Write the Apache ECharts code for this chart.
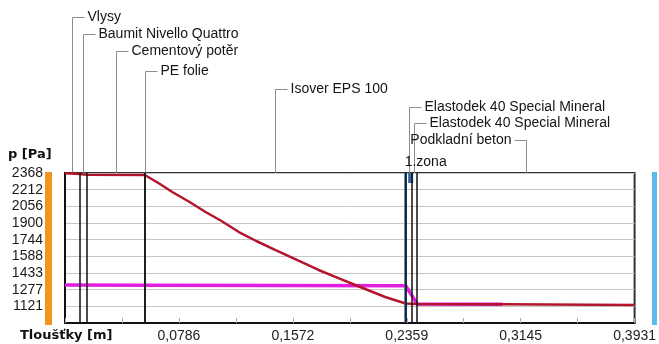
<!DOCTYPE html>
<html>
<head>
<meta charset="utf-8">
<script src="https://cdn.jsdelivr.net/npm/echarts@6/dist/echarts.min.js"></script>
<style>
  html, body { margin: 0; padding: 0; background: #fff; }
  #chart { width: 659px; height: 344px; }
</style>
</head>
<body>
<div id="chart"></div>
<script>
// vrstvy konstrukce (nazev + hranice v metrech)
const LAYER_NAMES = ['Vlysy', 'Baumit Nivello Quattro', 'Cementový potěr', 'PE folie', 'Isover EPS 100',
    'Elastodek 40 Special Mineral', 'Elastodek 40 Special Mineral', 'Podkladní beton'];
const LAYER_BOUNDS = [0, 0.010, 0.015, 0.055, 0.0551, 0.2351, 0.2391, 0.2431, 0.3931];
const ZONE_X = 0.2351;
const ZONE_NAME = '1.zona';

// osa x
const X_MAX = 0.3931;
const X_LABELS = ['', '', '0,0786', '', '0,1572', '', '0,2359', '', '0,3145', '', '0,3931'];

// osa y
const Y_MIN = 965.125;
const Y_MAX = 2368;
const Y_LABELS = ['', '1121', '1277', '1433', '1588', '1744', '1900', '2056', '2212', '2368'];

// nasyceny tlak vodni pary (cervena)
const SAT_X = [0, 0.010, 0.015, 0.0551, 0.065, 0.074, 0.086, 0.097, 0.108, 0.120, 0.132, 0.145,
    0.163, 0.175, 0.187, 0.202, 0.221, 0.2351, 0.2431, 0.302, 0.3931];
const SAT_P = [2365, 2359, 2352, 2349, 2270, 2190, 2097, 2003, 1919, 1816, 1732, 1648,
    1536, 1461, 1395, 1311, 1208, 1147, 1143, 1141, 1134];

// castecny tlak vodni pary (fialova)
const P_X = [0, 0.055, 0.0551, 0.2351, 0.2391, 0.2431, 0.302];
const P_VAL = [1320, 1318, 1314, 1314, 1228, 1143, 1141];

const GRID = { left: 65, right: 21, top: 173, bottom: 21 };
const FONT = '"Liberation Sans", Arial, sans-serif';

let chart = echarts.init(document.getElementById('chart'), null, { renderer: 'canvas' });

let option = {
    animation: false,
    backgroundColor: '#fff',
    textStyle: { fontFamily: FONT },
    grid: {
        left: GRID.left, right: GRID.right, top: GRID.top, bottom: GRID.bottom,
        show: true, backgroundColor: '#fff', borderColor: '#333', borderWidth: 2
    },
    xAxis: {
        type: 'value', min: 0, max: X_MAX, interval: X_MAX / 10,
        axisLine: { show: true, onZero: false, lineStyle: { color: '#111', width: 2 } },
        axisTick: { show: true, inside: true, length: 5, lineStyle: { color: '#aaa' } },
        splitLine: { show: false },
        axisLabel: {
            color: '#222', fontSize: 14, margin: 6, showMaxLabel: true,
            formatter: (v, i) => X_LABELS[i] || ''
        }
    },
    yAxis: {
        type: 'value', min: Y_MIN, max: Y_MAX, interval: (Y_MAX - Y_MIN) / 9,
        axisLine: { show: true, lineStyle: { color: '#111', width: 2 } },
        axisTick: { show: false },
        splitLine: { show: true, lineStyle: { color: '#c6c6c6', width: 1 } },
        axisLabel: {
            color: '#1a1a1a', fontSize: 14, margin: 22, padding: [3, 0, 0, 0],
            formatter: (v, i) => Y_LABELS[i] || ''
        }
    },
    series: [
        {
            // castecny tlak p
            type: 'line', showSymbol: false, silent: true, z: 2,
            data: P_X.map((x, i) => [x, P_VAL[i]]),
            lineStyle: { color: '#e21de0', width: 3.5 },
            markLine: {
                silent: true, precision: 6, symbol: ['none', 'rect'], symbolSize: [5, 10], symbolOffset: [0, 5],
                label: { show: false },
                lineStyle: { color: '#2d6aa6', width: 2.5, type: 'solid' },
                itemStyle: { color: '#2d6aa6' },
                data: [{ xAxis: ZONE_X }]
            }
        },
        {
            // nasyceny tlak p,sat
            type: 'line', showSymbol: false, silent: true, z: 3,
            data: SAT_X.map((x, i) => [x, SAT_P[i]]),
            lineStyle: { color: '#b3162c', width: 2.5 },
            markLine: {
                silent: true, precision: 6, symbol: ['none', 'none'],
                label: { show: false },
                lineStyle: { color: '#111', width: 1.5, type: 'solid' },
                data: LAYER_BOUNDS.slice(1, -1).map(x => ({ xAxis: x }))
            }
        }
    ]
};

chart.setOption(option);

// popisky vrstev nad grafem (vodici cary k polovine vrstvy)
const LABEL_ROWS = [17, 34, 51, 71, 89, 107, 123, 140];
const LABEL_SIDE = ['r', 'r', 'r', 'r', 'r', 'r', 'r', 'l'];

let graphics = [];
LAYER_NAMES.forEach((name, i) => {
    let mid = (LAYER_BOUNDS[i] + LAYER_BOUNDS[i + 1]) / 2;
    let px = Math.round(chart.convertToPixel({ xAxisIndex: 0 }, mid)) + 0.5;
    let y = LABEL_ROWS[i] + 0.5;
    let right = LABEL_SIDE[i] === 'r';
    graphics.push({
        type: 'line', silent: true,
        shape: { x1: px, y1: y, x2: px, y2: GRID.top },
        style: { stroke: '#8c8c8c', lineWidth: 1 }
    });
    graphics.push({
        type: 'line', silent: true,
        shape: { x1: px, y1: y, x2: right ? px + 12 : px - 12, y2: y },
        style: { stroke: '#8c8c8c', lineWidth: 1 }
    });
    graphics.push({
        type: 'text', silent: true,
        style: {
            text: name, x: right ? px + 15 : px - 15, y: LABEL_ROWS[i],
            textAlign: right ? 'left' : 'right', textVerticalAlign: 'middle',
            font: '14px ' + FONT, fill: '#151515'
        }
    });
});

// oznaceni zony
let zonePx = chart.convertToPixel({ xAxisIndex: 0 }, ZONE_X);
graphics.push({
    type: 'text', silent: true,
    style: {
        text: ZONE_NAME, x: zonePx - 1, y: 162, textAlign: 'left', textVerticalAlign: 'middle',
        font: '14px ' + FONT, fill: '#151515'
    }
});

// nazvy os
graphics.push({
    type: 'text', silent: true,
    style: { text: 'p [Pa]', x: 8, y: 155, textVerticalAlign: 'middle', font: 'bold 13px "DejaVu Sans", sans-serif', fill: '#111' }
});
graphics.push({
    type: 'text', silent: true,
    style: { text: 'Tloušťky [m]', x: 20, y: 336, textVerticalAlign: 'middle', font: 'bold 13px "DejaVu Sans", sans-serif', fill: '#111' }
});

// barevne pruhy vnitrni / vnejsi strany
graphics.push({
    type: 'rect', silent: true,
    shape: { x: 45, y: GRID.top - 1, width: 7, height: 344 - GRID.top - GRID.bottom + 3 },
    style: { fill: '#f39420' }
});
graphics.push({
    type: 'rect', silent: true,
    shape: { x: 652, y: GRID.top - 1, width: 5, height: 344 - GRID.top - GRID.bottom + 3 },
    style: { fill: '#5cbcf0' }
});

chart.setOption({ graphic: graphics });
</script>
</body>
</html>
